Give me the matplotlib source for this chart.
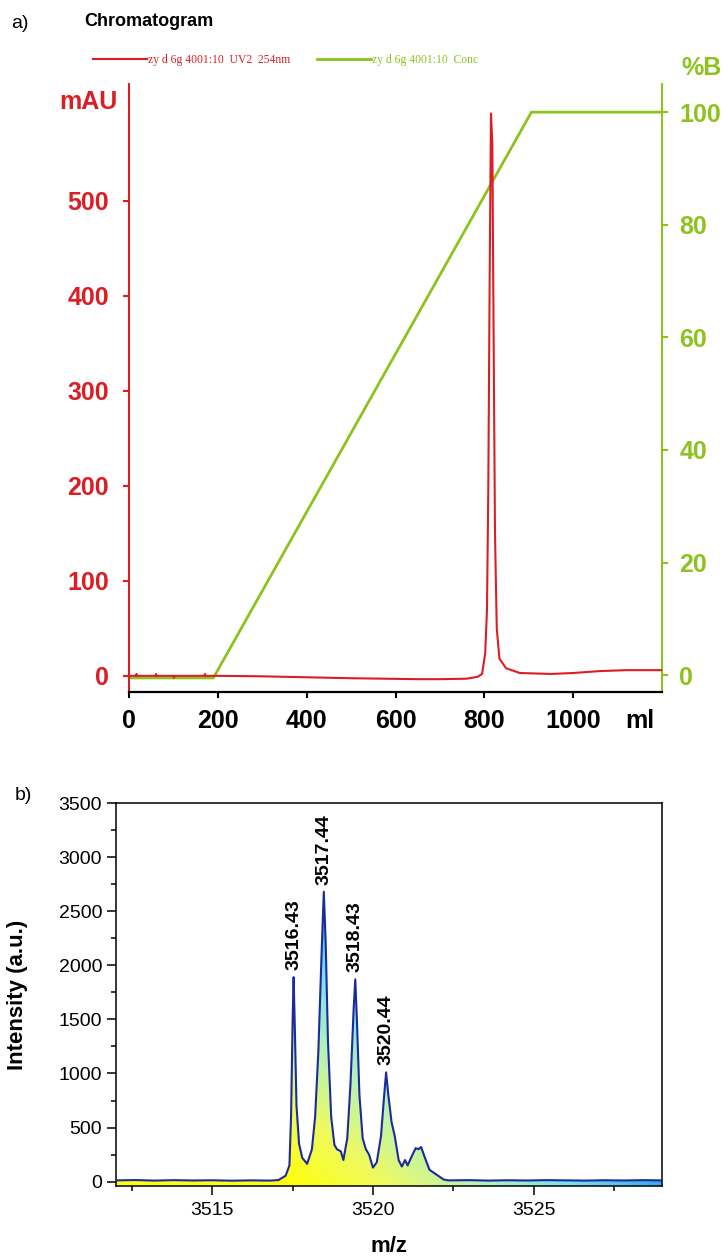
import numpy as np
import matplotlib
matplotlib.use("Agg")
import matplotlib.pyplot as plt
from matplotlib.colors import LinearSegmentedColormap
from matplotlib.ticker import MultipleLocator

plt.rcParams['font.family'] = ['Liberation Sans', 'DejaVu Sans']

RED = '#dc1e24'
GREEN = '#8dc21f'
BLUE = '#1c2a9e'

# ---- a) chromatogram: UV trace (mAU) and gradient (%B) vs volume (ml)
uv_ml = [0, 16, 17, 18, 60, 61, 62, 100, 101, 102, 170, 171, 172, 190, 200,
         300, 400, 500, 575, 650, 700, 760, 785, 795, 802, 806, 809, 812, 815,
         818, 821, 824, 828, 834, 849, 880, 950, 1000, 1060, 1120, 1200]
uv_mau = [0, 0, 2, 0, 0, 2, 0, 0, -2, 0, 0, 2, 0, 0, 0,
          -0.5, -1.5, -2.5, -3, -3.5, -3.5, -3, -1, 2, 24, 70, 200, 420, 592,
          560, 350, 150, 50, 18, 8, 3, 2, 3, 5, 6, 6]
conc_ml = [0, 190, 906, 1200]
conc_pct = [-0.5, -0.5, 100, 100]

uv_label = 'zy d 6g 4001:10  UV2  254nm'
conc_label = 'zy d 6g 4001:10  Conc'
mau_ticks = [0, 100, 200, 300, 400, 500]
pct_ticks = [0, 20, 40, 60, 80, 100]
ml_ticks = [0, 200, 400, 600, 800, 1000]

# ---- b) mass spectrum
mz = [3512.0, 3512.6, 3513.2, 3513.8, 3514.4, 3515.0, 3515.6, 3516.2, 3516.8,
      3517.06, 3517.28, 3517.40, 3517.45, 3517.50, 3517.53, 3517.57, 3517.62,
      3517.70, 3517.80, 3517.95, 3518.10, 3518.20, 3518.30, 3518.40, 3518.47,
      3518.53, 3518.60, 3518.70, 3518.80, 3518.88, 3519.00, 3519.08, 3519.20,
      3519.30, 3519.40, 3519.45, 3519.50, 3519.58, 3519.68, 3519.78, 3519.88,
      3520.00, 3520.12, 3520.25, 3520.35, 3520.41, 3520.48, 3520.58, 3520.68,
      3520.80, 3520.90, 3521.00, 3521.08, 3521.20, 3521.33, 3521.42, 3521.50,
      3521.62, 3521.76, 3521.98, 3522.20, 3522.35, 3523.0, 3523.6, 3524.2,
      3524.8, 3525.4, 3526.0, 3526.6, 3527.2, 3527.8, 3528.4, 3529.0]
intensity = [12, 15, 10, 14, 11, 13, 9, 12, 10,
             15, 55, 150, 600, 1500, 1890, 1400, 700,
             350, 220, 165, 300, 600, 1200, 2100, 2680,
             2200, 1300, 600, 340, 300, 280, 200, 400,
             900, 1600, 1870, 1500, 800, 400, 300, 250,
             130, 180, 420, 800, 1010, 800, 550, 420,
             200, 140, 200, 150, 230, 310, 300, 320,
             220, 110, 65, 20, 12, 14, 10, 13,
             11, 14, 12, 10, 13, 11, 14, 12]
peak_mz = [3517.53, 3518.47, 3519.45, 3520.41]
peak_int = [1890, 2680, 1870, 1010]
peak_text = ['3516.43', '3517.44', '3518.43', '3520.44']

W, H = 728, 1258
fig = plt.figure(figsize=(W / 100, H / 100), dpi=100)


def fx(px):
    return px / W


def fy(py):
    return 1 - py / H


# ================= panel a =================
ax = fig.add_axes([fx(129), fy(692), fx(662 - 129), (692 - 84) / H])
ax2 = ax.twinx()
ax.set_zorder(ax2.get_zorder() + 1)
ax.patch.set_visible(False)

l_uv, = ax.plot(uv_ml, uv_mau, color=RED, lw=1.5)
l_conc, = ax2.plot(conc_ml, conc_pct, color=GREEN, lw=2.0)

ax.set_xlim(0, 1200)
ax.set_ylim(-17, 623)
ax2.set_ylim(-3, 105)

ax.set_xticks(ml_ticks)
ax.set_yticks(mau_ticks)
ax2.set_yticks(pct_ticks)

for s in ['top', 'right']:
    ax.spines[s].set_visible(False)
for s in ['top', 'left', 'bottom']:
    ax2.spines[s].set_visible(False)
ax.spines['left'].set_color(RED)
ax.spines['left'].set_linewidth(1.5)
ax.spines['bottom'].set_color('black')
ax.spines['bottom'].set_linewidth(1.6)
ax2.spines['right'].set_color(GREEN)
ax2.spines['right'].set_linewidth(1.5)

bold = dict(fontweight='bold', fontsize=18)
ax.tick_params(axis='y', colors=RED, direction='out', length=4.5, width=1.5,
               pad=10, labelsize=18)
ax.tick_params(axis='x', colors='black', direction='out', length=4.5, width=1.5,
               pad=8, labelsize=18)
ax2.tick_params(axis='y', colors=GREEN, direction='out', length=4.5, width=1.5,
                pad=8, labelsize=18)
for t in ax.get_yticklabels() + ax.get_xticklabels() + ax2.get_yticklabels():
    t.set_fontweight('bold')

ax.text(0.959, -0.047, 'ml', transform=ax.transAxes, ha='center', va='center', **bold)
fig.text(fx(88), fy(102), 'mAU', color=RED, ha='center', va='center', **bold)
fig.text(fx(702), fy(68), '%B', color=GREEN, ha='center', va='center', **bold)

fig.text(fx(20), fy(24), 'a)', fontsize=14, ha='center', va='center')
fig.text(fx(84), fy(22), 'Chromatogram', fontsize=13, fontweight='bold',
         ha='left', va='center')

leg = fig.legend([l_uv, l_conc], [uv_label, conc_label], loc='center left',
                 bbox_to_anchor=(fx(93), fy(60)), ncol=2, frameon=False,
                 prop={'family': 'Liberation Serif', 'size': 8.4},
                 handlelength=4.6, handletextpad=0.1, columnspacing=2.3,
                 borderpad=0, borderaxespad=0)
leg.get_texts()[0].set_color(RED)
leg.get_texts()[1].set_color(GREEN)

# ================= panel b =================
bx = fig.add_axes([fx(116), fy(1186), fx(662 - 116), (1186 - 803) / H])
x0, x1, y0, y1 = 3512, 3529, -40, 3500
bx.set_xlim(x0, x1)
bx.set_ylim(y0, y1)

# gradient fill under the spectrum
cmap = LinearSegmentedColormap.from_list(
    'spec', ['#ffff10', '#eefa60', '#b8f2b8', '#78e2ee', '#3aa8f2'])
gx = np.linspace(x0, x1, 600)
gy = np.linspace(y0, y1, 400)
GX, GY = np.meshgrid(gx, gy)
shade = np.clip(0.7 * GY / 2000 + 0.35 * (GX - 3517.5) / 4.0, 0, 1)
im = bx.imshow(shade, extent=[x0, x1, y0, y1], origin='lower', aspect='auto',
               cmap=cmap, vmin=0, vmax=1, zorder=1, interpolation='bilinear')
area = bx.fill_between(mz, intensity, y0, facecolor='none', edgecolor='none')
im.set_clip_path(area.get_paths()[0], transform=bx.transData)

bx.plot(mz, intensity, color=BLUE, lw=1.5, zorder=3)

for xm, yi, txt in zip(peak_mz, peak_int, peak_text):
    bx.annotate(txt, (xm, yi), xytext=(0, 5), textcoords='offset points',
                rotation=90, ha='center', va='bottom', fontsize=14,
                fontweight='bold')

bx.xaxis.set_major_locator(MultipleLocator(5))
bx.xaxis.set_minor_locator(MultipleLocator(2.5))
bx.yaxis.set_major_locator(MultipleLocator(500))
bx.yaxis.set_minor_locator(MultipleLocator(250))
bx.tick_params(which='major', direction='out', length=6.5, width=1.1, labelsize=14)
bx.tick_params(which='minor', direction='out', length=3.6, width=1.1)
bx.tick_params(axis='x', which='major', pad=5)
for s in bx.spines.values():
    s.set_linewidth(1.1)

bx.set_ylabel('Intensity (a.u.)', fontsize=16, fontweight='bold')
bx.yaxis.set_label_coords(-0.161, 0.5)
bx.set_xlabel('m/z', fontsize=16, fontweight='bold')
bx.xaxis.label.set_va('center')
bx.xaxis.set_label_coords(0.5, -0.159)

fig.text(fx(23), fy(795), 'b)', fontsize=14, ha='center', va='center')

fig.savefig('out.png', dpi=100)
